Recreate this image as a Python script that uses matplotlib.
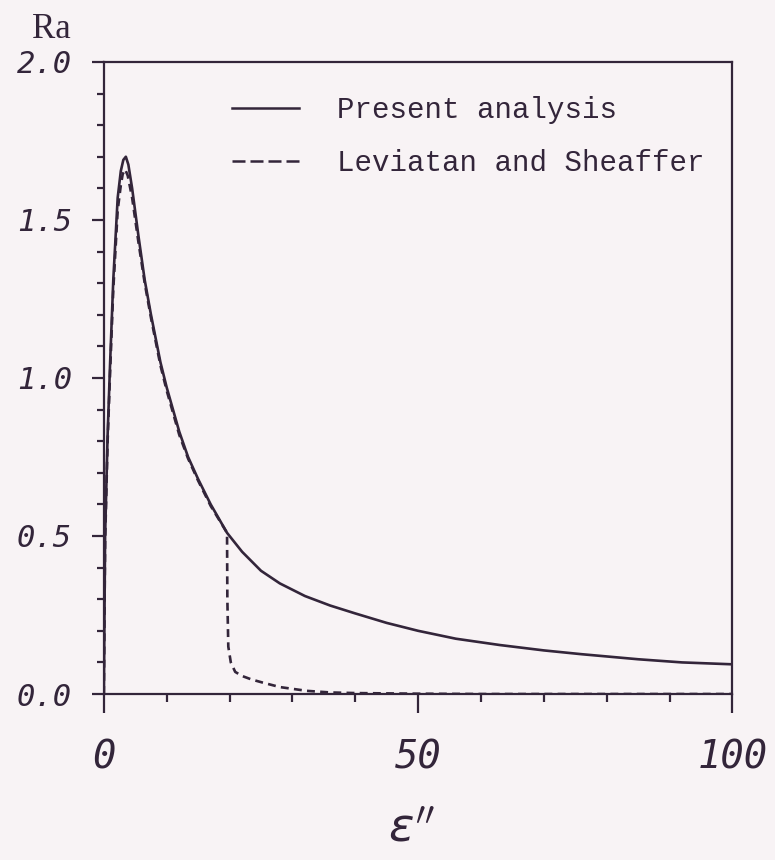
import matplotlib
matplotlib.use("Agg")
import matplotlib.pyplot as plt
from matplotlib.lines import Line2D
from matplotlib.ticker import MultipleLocator

# Present analysis
eps_present = [0, 0.2, 0.6, 1.0, 1.5, 2.2, 2.7, 3.1, 3.5, 3.9, 4.5, 5.5, 6.5, 7.5, 9, 10, 11, 12,
               13.4, 15, 17, 19.6, 22, 25, 28, 32, 36, 40, 45, 50, 56, 63, 70, 76, 85, 92, 100]
ra_present = [0, 0.50, 0.82, 1.05, 1.31, 1.57, 1.655, 1.69, 1.70, 1.675, 1.60, 1.45, 1.31, 1.20,
              1.05, 0.97, 0.90, 0.83, 0.75, 0.68, 0.60, 0.51, 0.45, 0.39, 0.35, 0.31, 0.28,
              0.255, 0.225, 0.20, 0.175, 0.155, 0.138, 0.126, 0.11, 0.10, 0.094]

# Leviatan and Sheaffer
eps_lev = [0, 0.2, 0.6, 1.0, 1.5, 2.2, 2.7, 3.0, 3.4, 3.8, 4.5, 5.5, 6.5, 7.5, 9, 10, 11, 12,
           13.4, 15, 17, 19.6, 19.65, 19.8, 20.2, 20.9, 22, 23.5, 25.3, 28, 32.3, 36, 40, 50,
           60, 70, 80, 90, 100]
ra_lev = [0, 0.48, 0.80, 1.02, 1.28, 1.53, 1.61, 1.645, 1.66, 1.64, 1.57, 1.43, 1.30, 1.19,
          1.04, 0.96, 0.89, 0.82, 0.745, 0.675, 0.595, 0.51, 0.30, 0.15, 0.10, 0.07, 0.057,
          0.046, 0.036, 0.022, 0.010, 0.005, 0.003, 0.001, 0, 0, 0, 0, 0]

labels = ["Present analysis", "Leviatan and Sheaffer"]

ink = "#33253a"
paper = "#f8f3f5"

fig = plt.figure(figsize=(7.75, 8.6), dpi=100, facecolor=paper)
ax = fig.add_axes([0.134, 0.193, 0.811, 0.735], facecolor=paper)

ax.plot(eps_present, ra_present, color=ink, lw=1.9)
ax.plot(eps_lev, ra_lev, color=ink, lw=1.9, dashes=(3, 2))

ax.set_xlim(0, 100)
ax.set_ylim(0, 2.0)

for s in ax.spines.values():
    s.set_color(ink)
    s.set_linewidth(1.6)

ax.set_xticks([0, 50, 100])
ax.set_xticklabels(["0", "50", "100"])
ax.xaxis.set_minor_locator(MultipleLocator(10))
ax.set_yticks([0, 0.5, 1.0, 1.5, 2.0])
ax.set_yticklabels(["0.0", "0.5", "1.0", "1.5", "2.0"])
ax.yaxis.set_minor_locator(MultipleLocator(0.1))

ax.tick_params(axis="x", which="major", direction="out", length=14, width=1.6,
               color=ink, pad=18, labelsize=28, labelcolor=ink)
ax.tick_params(axis="x", which="minor", direction="out", length=6, width=1.6, color=ink)
ax.tick_params(axis="y", which="major", direction="out", length=9, width=1.6,
               color=ink, pad=14, labelsize=22, labelcolor=ink)
ax.tick_params(axis="y", which="minor", direction="out", length=5, width=1.6, color=ink)
for lbl in ax.get_xticklabels() + ax.get_yticklabels():
    lbl.set_fontfamily("DejaVu Sans Mono")
    lbl.set_fontstyle("italic")

handles = [Line2D([], [], color=ink, lw=1.8),
           Line2D([], [], color=ink, lw=1.8, dashes=(5.2, 2))]
ax.legend(handles, labels, loc="upper left", bbox_to_anchor=(232 / 775, 1 - 96 / 860),
          bbox_transform=fig.transFigure, frameon=False,
          prop={"family": "Liberation Mono", "size": 21},
          handlelength=2.3, handletextpad=1.3, labelspacing=0.85,
          borderpad=0, borderaxespad=0, labelcolor=ink)

fig.text(32 / 775, 1 - 38 / 860, "Ra", family="Liberation Serif", size=25,
         color=ink, va="baseline", ha="left")
fig.text(412 / 775, 1 - 852 / 860, r"$\varepsilon''$", size=34, color=ink,
         ha="center", va="bottom")

plt.savefig("out.png", dpi=100, facecolor=paper)
